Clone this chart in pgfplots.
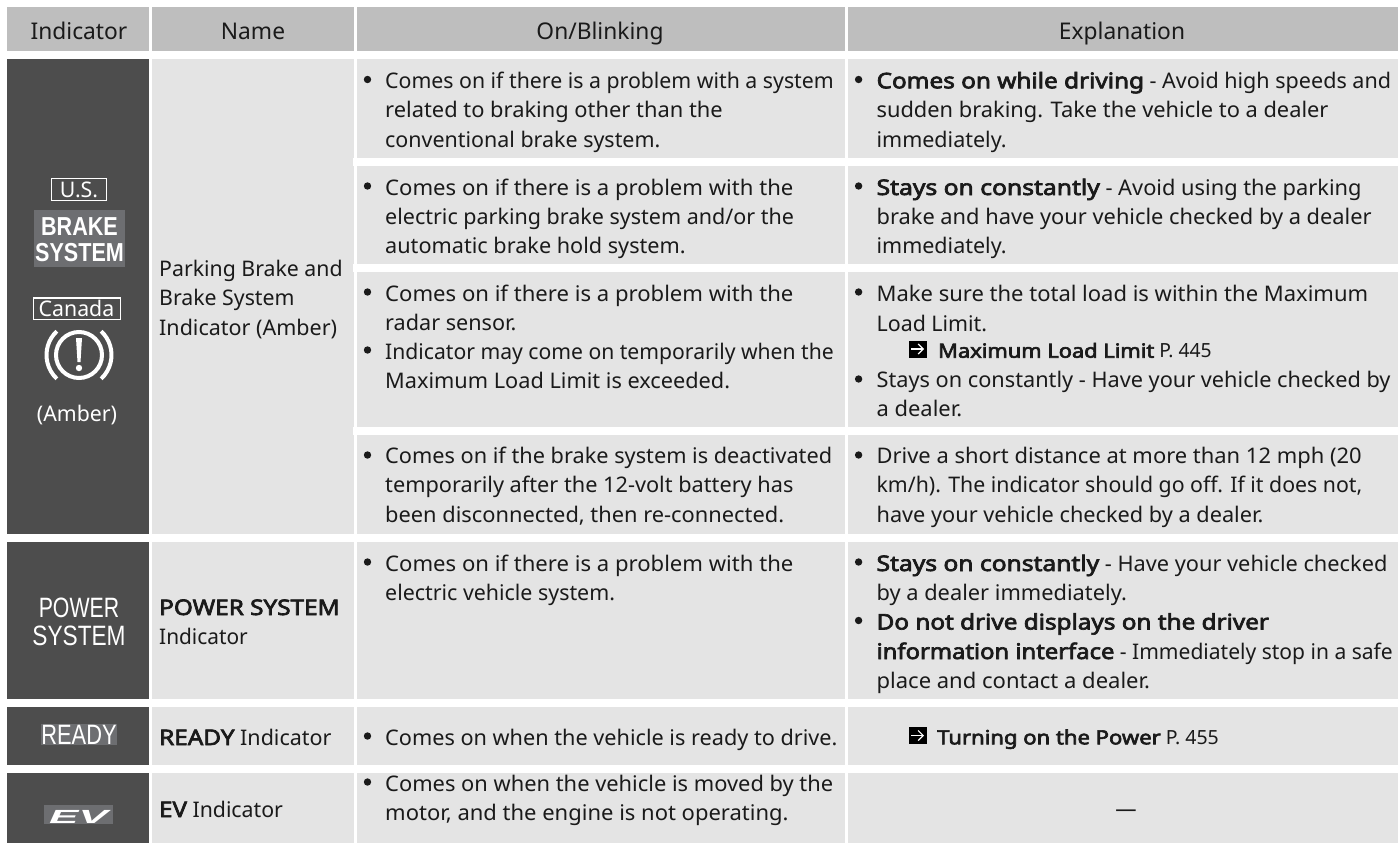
\documentclass[border=0pt]{standalone}
\usepackage{pgfplots}
\pgfplotsset{compat=1.18}
\usepackage{fontspec}
\usepackage{graphicx}
\setmainfont{Noto Sans}[AutoFakeBold=3]
\newfontfamily\narrowf{Liberation Sans}
\usetikzlibrary{arrows.meta}
\definecolor{hdr}{HTML}{BEBEBE}
\definecolor{cellc}{HTML}{E4E4E4}
\definecolor{dark}{HTML}{4D4D4D}
\definecolor{iconbg}{HTML}{6D6E71}
\definecolor{ink}{HTML}{1A1A1A}
\newcommand{\hs}{0.99}
\newcommand{\fs}{\fontsize{21.5bp}{26bp}\selectfont}
\newcommand{\HF}{\fontsize{23bp}{27bp}\selectfont}
\newcommand{\SF}{\fontsize{19.5bp}{24bp}\selectfont}
\newcommand{\BF}[1]{\scalebox{1.13}[1]{\textbf{#1}}}
\newcommand{\cell}[5]{\addplot[fill=#5,draw=none,forget plot] coordinates {(#1,#2)(#3,#2)(#3,#4)(#1,#4)} --cycle;}
\newcommand{\TS}[4]{\node[anchor=base west,inner sep=0pt,text=ink,yshift=-1bp] at (axis cs:#1,#2) {\scalebox{#3}[1]{\fs #4}};}
\newcommand{\T}[3]{\TS{#1}{#2}{\hs}{#3}}
\newcommand{\C}[3]{\node[anchor=base,inner sep=0pt,text=ink,yshift=-1bp] at (axis cs:#1,#2) {\scalebox{\hs}[1]{\fs #3}};}
\newcommand{\W}[3]{\node[anchor=base,inner sep=0pt,text=white,yshift=-1bp] at (axis cs:#1,#2) {\scalebox{\hs}[1]{\fs #3}};}
\newcommand{\B}[2]{\fill[ink] (axis cs:#1,#2) circle [radius=3.7bp];}
\newcommand{\Arrow}[2]{\fill[black] (axis cs:#1,#2) rectangle (axis cs:#1+18,#2+17);
  \draw[white,line width=1.2bp,-{Straight Barb[length=5bp,width=10bp]}] (axis cs:#1+2,#2+8.5) -- (axis cs:#1+15,#2+8.5);}
\begin{document}
\begin{tikzpicture}
\begin{axis}[hide axis,scale only axis,width=1398bp,height=843bp,
  xmin=0,xmax=1398,ymin=0,ymax=843,y dir=reverse,clip=false]
\cell{0}{0}{1398}{843}{white}
% header
\cell{7}{7}{149}{51}{hdr}
\cell{152}{7}{354}{51}{hdr}
\cell{357}{7}{845}{51}{hdr}
\cell{848}{7}{1398}{51}{hdr}
% col 1
\cell{7}{59}{149}{534}{dark}
\cell{7}{542}{149}{699}{dark}
\cell{7}{707}{149}{765}{dark}
\cell{7}{773}{149}{843}{dark}
% col 2
\cell{152}{59}{354}{534}{cellc}
\cell{152}{542}{354}{699}{cellc}
\cell{152}{707}{354}{765}{cellc}
\cell{152}{773}{354}{843}{cellc}
% col 3 and 4
\cell{357}{59}{845}{158}{cellc}
\cell{357}{166}{845}{264}{cellc}
\cell{357}{272}{845}{427}{cellc}
\cell{357}{435}{845}{534}{cellc}
\cell{357}{542}{845}{699}{cellc}
\cell{357}{707}{845}{765}{cellc}
\cell{357}{773}{845}{843}{cellc}
\cell{848}{59}{1398}{158}{cellc}
\cell{848}{166}{1398}{264}{cellc}
\cell{848}{272}{1398}{427}{cellc}
\cell{848}{435}{1398}{534}{cellc}
\cell{848}{542}{1398}{699}{cellc}
\cell{848}{707}{1398}{765}{cellc}
\cell{848}{773}{1398}{843}{cellc}
% notches
\cell{353}{158}{357}{166}{white}
\cell{353}{264}{357}{272}{white}
\cell{353}{427}{357}{435}{white}
% header text
\C{79}{39}{\HF Indicator}
\C{253}{39}{\HF Name}
\C{600}{39}{\HF On/Blinking}
\C{1122}{39}{\HF Explanation}
% name col
\T{159}{275}{Parking Brake and}
\T{159}{304}{Brake System}
\TS{159}{334}{1.0}{Indicator (Amber)}
\TS{159}{614}{1.0}{\BF{POWER SYSTEM}}
\TS{159}{643}{0.97}{Indicator}
\TS{159}{744}{1.0}{\BF{READY} Indicator}
\T{159}{816}{\BF{EV} Indicator}
% col 3
\B{367.5}{79.5}
\TS{385}{87.3}{0.99}{Comes on if there is a problem with a system}
\TS{385}{116.7}{1.017}{related to braking other than the}
\TS{385}{146}{0.997}{conventional brake system.}
\B{367.5}{186}
\TS{385}{194}{1.028}{Comes on if there is a problem with the}
\TS{385}{223.3}{1.0}{electric parking brake system and/or the}
\TS{385}{252.6}{1.007}{automatic brake hold system.}
\B{367.5}{292}
\TS{385}{300}{1.028}{Comes on if there is a problem with the}
\TS{385}{329}{1.005}{radar sensor.}
\B{367.5}{350}
\TS{385}{358}{0.983}{Indicator may come on temporarily when the}
\TS{385}{387}{1.01}{Maximum Load Limit is exceeded.}
\B{367.5}{455}
\TS{385}{462.7}{1.01}{Comes on if the brake system is deactivated}
\TS{385}{491.7}{1.01}{temporarily after the 12-volt battery has}
\TS{385}{521}{1.015}{been disconnected, then re-connected.}
\B{367.5}{562}
\TS{385}{570}{1.028}{Comes on if there is a problem with the}
\TS{385}{599}{0.995}{electric vehicle system.}
\B{367.5}{736}
\TS{385}{744}{1.008}{Comes on when the vehicle is ready to drive.}
\B{367.5}{782}
\TS{385}{790}{1.017}{Comes on when the vehicle is moved by the}
\TS{385}{819}{1.023}{motor, and the engine is not operating.}
% col 4
\B{858.6}{79.5}
\TS{876.4}{87.3}{1.002}{\BF{Comes on while driving} - Avoid high speeds and}
\TS{876.4}{116.7}{1.015}{sudden braking. Take the vehicle to a dealer}
\TS{876.4}{146}{1.0}{immediately.}
\B{858.6}{186}
\TS{876.4}{194}{1.015}{\BF{Stays on constantly} - Avoid using the parking}
\TS{876.4}{223.3}{1.015}{brake and have your vehicle checked by a dealer}
\TS{876.4}{252.6}{1.0}{immediately.}
\B{858.6}{292}
\TS{876.4}{300}{1.023}{Make sure the total load is within the Maximum}
\TS{876.4}{330}{0.995}{Load Limit.}
\Arrow{909}{340.5}
\T{938}{356.7}{\SF\BF{Maximum Load Limit} P. 445}
\B{858.6}{379}
\TS{876.4}{386.7}{1.01}{Stays on constantly - Have your vehicle checked by}
\TS{876.4}{415}{1.02}{a dealer.}
\B{858.6}{455}
\TS{876.4}{462.7}{1.02}{Drive a short distance at more than 12 mph (20}
\TS{876.4}{491.7}{0.99}{km/h). The indicator should go off. If it does not,}
\TS{876.4}{521}{1.01}{have your vehicle checked by a dealer.}
\B{858.6}{562}
\TS{876.4}{570}{1.012}{\BF{Stays on constantly} - Have your vehicle checked}
\TS{876.4}{599}{1.015}{by a dealer immediately.}
\B{858.6}{620.5}
\TS{876.4}{628.5}{1.0}{\BF{Do not drive displays on the driver}}
\TS{876.4}{658}{0.979}{\BF{information interface} - Immediately stop in a safe}
\TS{876.4}{687}{1.024}{place and contact a dealer.}
\Arrow{909}{727}
\TS{937}{743.3}{1.0}{\SF\BF{Turning on the Power} P. 455}
\C{1126}{815}{—}
% col 1 icons
\draw[white,line width=1.2bp] (axis cs:51.6,178.6) rectangle (axis cs:106.4,200.4);
\W{79}{196}{U.S.}
\cell{34}{210}{125}{267}{iconbg}
\node[anchor=base,inner sep=0pt,text=white] at (axis cs:79.5,235.5) {\scalebox{0.83}[1]{\fontsize{26bp}{30bp}\selectfont\narrowf\bfseries BRAKE}};
\node[anchor=base,inner sep=0pt,text=white] at (axis cs:79.5,261.5) {\scalebox{0.83}[1]{\fontsize{26bp}{30bp}\selectfont\narrowf\bfseries SYSTEM}};
\draw[white,line width=1.2bp] (axis cs:33.6,297.9) rectangle (axis cs:120.4,319.4);
\W{76.5}{315}{Canada}
\draw[white,line width=4bp] (axis cs:79,355) circle [radius=23bp];
\draw[white,line width=4bp] (axis cs:79,355) ++(47:32.5bp) arc (47:-47:32.5bp);
\draw[white,line width=4bp] (axis cs:79,355) ++(133:32.5bp) arc (133:227:32.5bp);
\fill[white] (axis cs:76,338) -- (axis cs:82,338) -- (axis cs:80.5,362) -- (axis cs:77.5,362) -- cycle;
\fill[white] (axis cs:79,368) circle [radius=3.2bp];
\W{77}{420}{(Amber)}
\node[anchor=base,inner sep=0pt,text=white] at (axis cs:79,617) {\scalebox{0.76}[1]{\fontsize{28bp}{32bp}\selectfont\narrowf POWER}};
\node[anchor=base,inner sep=0pt,text=white] at (axis cs:79,645) {\scalebox{0.81}[1]{\fontsize{28bp}{32bp}\selectfont\narrowf SYSTEM}};
\cell{41}{724}{117}{745}{iconbg}
\node[anchor=base,inner sep=0pt,text=white] at (axis cs:79,744.5) {\scalebox{0.78}[1]{\fontsize{28bp}{32bp}\selectfont\narrowf READY}};
\cell{44}{805}{113}{824}{iconbg}
\node[anchor=base,inner sep=0pt,text=white] at (axis cs:78.5,823) {\scalebox{2.2}[0.95]{\fontsize{20bp}{24bp}\selectfont\narrowf\bfseries\itshape EV}};
\end{axis}
\end{tikzpicture}
\end{document}
